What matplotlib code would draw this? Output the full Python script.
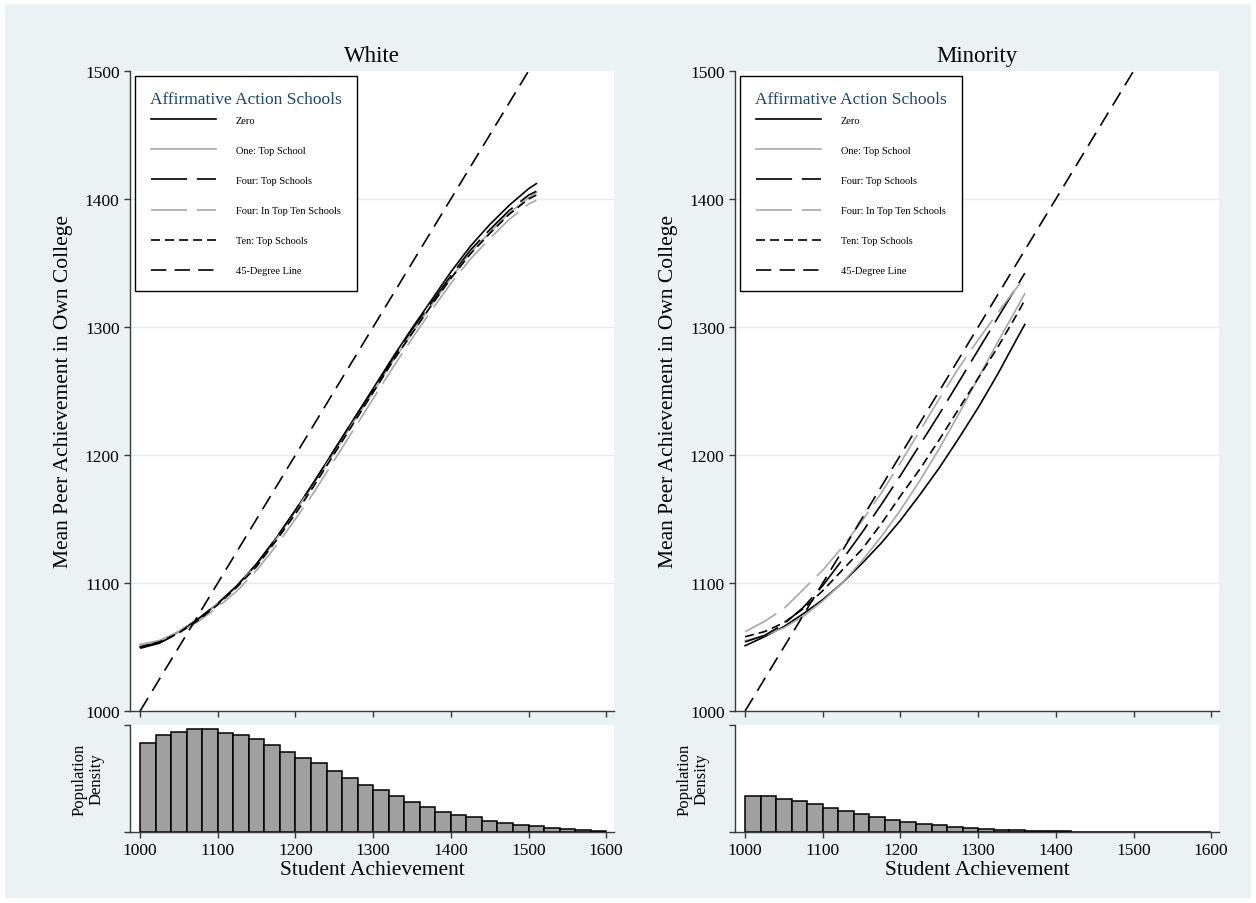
import matplotlib
matplotlib.use('Agg')
import matplotlib.pyplot as plt
import numpy as np
from matplotlib.patches import Rectangle

plt.rcParams['font.family'] = ['Liberation Serif', 'DejaVu Serif']
plt.rcParams['lines.scale_dashes'] = False

# ---------------- data ----------------
labels = ['Zero', 'One: Top School', 'Four: Top Schools',
          'Four: In Top Ten Schools', 'Ten: Top Schools']

x_white = [1000, 1025, 1050, 1075, 1100, 1125, 1150, 1175, 1200, 1225, 1250,
           1275, 1300, 1325, 1350, 1375, 1400, 1425, 1450, 1475, 1500, 1510]
white_zero = [1050, 1054, 1062, 1072, 1084, 1098, 1115, 1135, 1157, 1180, 1204,
              1228, 1252, 1276, 1299, 1321, 1343, 1363, 1380, 1395, 1408, 1412]
white_one = [1052, 1055, 1062, 1072, 1084, 1098, 1114, 1134, 1156, 1179, 1202,
             1226, 1249, 1273, 1295, 1317, 1338, 1358, 1374, 1389, 1401, 1405]
white_four = [1049, 1053, 1061, 1072, 1084, 1098, 1115, 1135, 1157, 1180, 1204,
              1228, 1251, 1275, 1298, 1319, 1340, 1360, 1376, 1391, 1403, 1406]
white_four10 = [1051, 1055, 1061, 1070, 1081, 1094, 1110, 1129, 1150, 1172, 1196,
                1220, 1244, 1268, 1291, 1313, 1334, 1353, 1369, 1384, 1396, 1399]
white_ten = [1050, 1054, 1061, 1071, 1083, 1097, 1113, 1133, 1154, 1177, 1201,
             1225, 1249, 1273, 1295, 1317, 1338, 1357, 1373, 1388, 1400, 1403]

x_minority = [1000, 1025, 1050, 1075, 1100, 1125, 1150, 1175, 1200, 1225, 1250,
              1275, 1300, 1325, 1350, 1360]
min_zero = [1051, 1058, 1066, 1076, 1087, 1100, 1115, 1131, 1149, 1169, 1190,
            1213, 1237, 1263, 1291, 1302]
min_one = [1055, 1059, 1065, 1074, 1086, 1100, 1117, 1136, 1157, 1180, 1205,
           1232, 1260, 1288, 1315, 1326]
min_four = [1054, 1059, 1068, 1081, 1098, 1118, 1139, 1161, 1184, 1208, 1232,
            1257, 1282, 1307, 1332, 1342]
min_four10 = [1062, 1070, 1080, 1095, 1110, 1128, 1148, 1170, 1194, 1219, 1244,
              1268, 1290, 1311, 1331, 1338]
min_ten = [1058, 1062, 1069, 1080, 1094, 1110, 1126, 1146, 1168, 1189, 1212,
           1236, 1260, 1284, 1310, 1321]

deg45_x = [1000, 1500]
deg45_y = [1000, 1500]

# histogram: bins of width 20 from 1000 to 1600 (relative density)
bin_left = list(range(1000, 1600, 20))
white_density = [0.836, 0.910, 0.935, 0.966, 0.966, 0.923, 0.904, 0.873, 0.817, 0.743,
                 0.693, 0.641, 0.570, 0.502, 0.440, 0.390, 0.341, 0.285, 0.238, 0.186,
                 0.161, 0.136, 0.105, 0.084, 0.062, 0.053, 0.037, 0.028, 0.022, 0.012]
minority_density = [0.341, 0.334, 0.310, 0.288, 0.260, 0.226, 0.195, 0.167, 0.136, 0.115,
                    0.093, 0.074, 0.062, 0.046, 0.040, 0.028, 0.019, 0.015, 0.009, 0.006,
                    0.005, 0.003, 0.002, 0.002, 0.001, 0.001, 0.001, 0.001, 0.001, 0.001]

panels = [
    ('White', x_white, [white_zero, white_one, white_four, white_four10, white_ten], white_density),
    ('Minority', x_minority, [min_zero, min_one, min_four, min_four10, min_ten], minority_density),
]

# styles: colour, dash pattern (points)
gray = '#a8a8a8'
styles = [
    ('black', '-'),
    (gray, '-'),
    ('black', (0, (26, 7))),
    (gray, (0, (26, 7))),
    ('black', (0, (6.5, 3.6))),
]
deg45_style = ('black', (0, (11, 6)))

bg = '#eaf2f3'
axcol = '#3a3a3a'
W, H = 1256, 904

fig = plt.figure(figsize=(W / 100, H / 100), dpi=100)
fig.patch.set_facecolor('white')
fig.patches.append(Rectangle((5 / W, 5 / H), 1 - 10 / W, 1 - 10 / H, transform=fig.transFigure,
                             facecolor=bg, edgecolor='none', zorder=-10))

lefts = [130, 735]
for (title, xs, curves, dens), left in zip(panels, lefts):
    ax = fig.add_axes([left / W, 1 - 712 / H, 484 / W, 640 / H])
    hx = fig.add_axes([left / W, 1 - 833 / H, 484 / W, 107 / H])

    # main panel
    for yv in [1100, 1200, 1300, 1400]:
        ax.axhline(yv, color='#e3ecec', lw=1.0, zorder=0)
    for ys, lab, (c, ls) in zip(curves, labels, styles):
        ax.plot(xs, ys, color=c, ls=ls, lw=1.2, label=lab)
    ax.plot(deg45_x, deg45_y, color=deg45_style[0], ls=deg45_style[1], lw=1.2, label='45-Degree Line')

    ax.set_xlim(987, 1610)
    ax.set_ylim(1000, 1500)
    ax.set_yticks([1000, 1100, 1200, 1300, 1400, 1500])
    ax.set_xticks([1000, 1100, 1200, 1300, 1400, 1500, 1600])
    ax.set_xticklabels([])
    ax.spines[['top', 'right']].set_visible(False)
    for s in ['left', 'bottom']:
        ax.spines[s].set_color(axcol)
        ax.spines[s].set_linewidth(1.0)
    ax.tick_params(direction='out', length=4, color=axcol, labelsize=12.5, width=1.0)
    ax.set_ylabel('Mean Peer Achievement in Own College', fontsize=15.5)
    ax.yaxis.set_label_coords(-0.118, 0.5)
    ax.set_title(title, fontsize=16.5, pad=7)

    leg = ax.legend(loc='upper left', bbox_to_anchor=(0.01, 0.992), borderaxespad=0,
                    fontsize=7.5, title='Affirmative Action Schools', title_fontsize=12.5,
                    handlelength=6.2, handletextpad=1.9, labelspacing=2.0,
                    borderpad=1.45, fancybox=False, framealpha=1, edgecolor='black')
    leg.get_frame().set_linewidth(1.0)
    leg.get_title().set_color('#1a476f')
    leg._legend_box.sep = 6

    # histogram panel
    hx.bar(bin_left, dens, width=20, align='edge', color='#a0a0a0', edgecolor='black', lw=1.1)
    hx.set_xlim(987, 1610)
    hx.set_ylim(0, 1.0)
    hx.set_yticks([0, 1.0])
    hx.set_yticklabels([])
    hx.set_xticks([1000, 1100, 1200, 1300, 1400, 1500, 1600])
    hx.spines[['top', 'right']].set_visible(False)
    for s in ['left', 'bottom']:
        hx.spines[s].set_color(axcol)
        hx.spines[s].set_linewidth(1.0)
    hx.tick_params(direction='out', length=4, color=axcol, labelsize=12.5, width=1.0)
    hx.set_ylabel('Population\nDensity', fontsize=12, linespacing=1.05)
    hx.yaxis.set_label_coords(-0.053, 0.5)
    hx.set_xlabel('Student Achievement', fontsize=15.5, labelpad=1)

fig.savefig('out.png', dpi=100, facecolor=fig.get_facecolor())
